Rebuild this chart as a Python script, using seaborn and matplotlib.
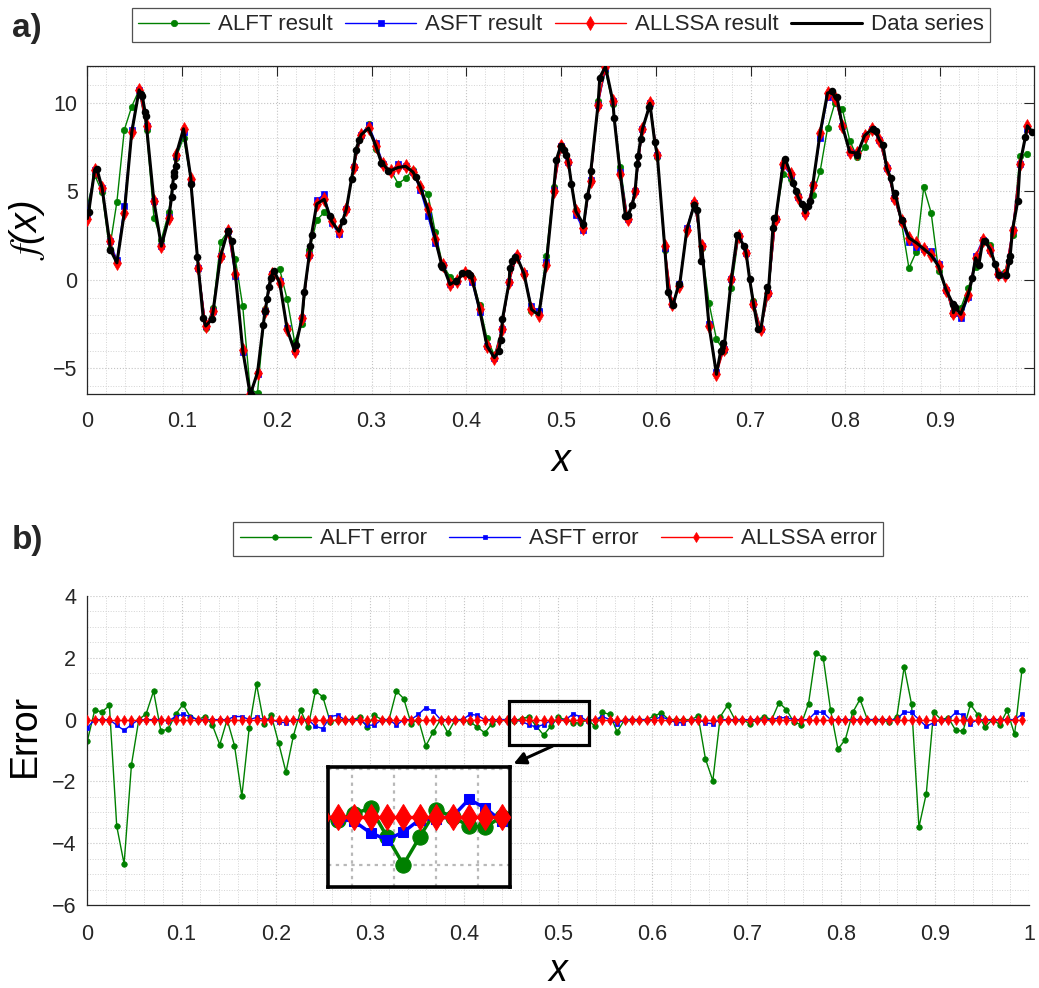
import numpy as np
import matplotlib
matplotlib.use("Agg")
import matplotlib.pyplot as plt
import seaborn as sns
from matplotlib.ticker import MultipleLocator, FuncFormatter
from matplotlib.patches import Rectangle, FancyArrowPatch

# ---------------- data ----------------
n_grid = 128  # regular evaluation grid x = i/128

allssa_result = [
    3.46, 6.22, 5.19, 2.18, 0.96, 3.80, 8.33, 10.73, 8.67, 4.44,
    1.90, 3.50, 7.07, 8.53, 5.71, 0.68, -2.61, -1.77, 1.33, 2.74,
    0.34, -3.98, -6.47, -5.24, -1.77, 0.34, -0.17, -2.80, -4.02, -2.18,
    1.43, 4.29, 4.55, 3.31, 2.74, 4.00, 6.37, 8.20, 8.57, 7.54,
    6.54, 6.17, 6.35, 6.41, 6.09, 5.23, 4.02, 2.33, 0.86, -0.26,
    -0.08, 0.39, 0.02, -1.67, -3.74, -4.40, -2.76, -0.11, 1.33, 0.34,
    -1.67, -1.99, 0.86, 5.04, 7.54, 6.63, 3.87, 2.93, 5.60, 9.89,
    12.05, 10.08, 5.98, 3.46, 5.00, 8.52, 9.98, 7.07, 1.90, -1.39,
    -0.36, 2.84, 4.34, 1.90, -2.61, -5.34, -3.93, 0.02, 2.46, 1.52,
    -1.35, -2.80, -0.73, 3.46, 6.54, 6.00, 4.70, 3.78, 5.34, 8.29,
    10.55, 10.30, 8.70, 7.22, 7.16, 8.14, 8.52, 7.91, 6.32, 4.62,
    3.31, 2.37, 2.09, 1.75, 1.39, 0.77, -0.55, -1.86, -1.95, -0.83,
    1.24, 2.27, 1.71, 0.34, 0.30, 2.84, 6.54, 8.70]

alft_err = [
    -0.70, 0.30, 0.25, 0.46, -3.45, -4.67, -1.46, 0.00, 0.19, 0.92,
    -0.37, -0.31, 0.17, 0.49, 0.09, 0.00, 0.10, -0.18, -0.81, 0.00,
    -0.84, -2.48, -0.27, 1.14, -0.13, 0.14, -0.76, -1.70, -0.53, 0.30,
    -0.24, 0.92, 0.74, -0.07, 0.00, 0.00, 0.00, 0.07, -0.24, 0.14,
    0.00, 0.00, 0.92, 0.68, -0.13, 0.00, -0.85, -0.40, 0.00, -0.43,
    0.00, 0.00, -0.07, -0.24, -0.43, -0.13, 0.00, 0.00, -0.03, 0.03,
    0.09, -0.21, -0.50, -0.21, 0.07, 0.00, -0.10, -0.11, 0.00, -0.22,
    0.23, 0.17, -0.40, 0.00, 0.00, 0.00, 0.00, 0.11, 0.22, 0.00,
    0.00, 0.00, 0.00, 0.11, -1.28, -1.98, 0.09, 0.46, 0.00, 0.00,
    -0.13, 0.00, 0.09, 0.00, 0.55, 0.32, -0.08, -0.16, 0.52, 2.17,
    2.00, 0.30, -0.95, -0.65, 0.23, 0.66, 0.00, 0.00, 0.00, -0.08,
    0.09, 1.71, 0.50, -3.48, -2.40, 0.25, 0.00, 0.06, -0.35, -0.37,
    0.49, 0.16, -0.24, 0.00, -0.16, 0.30, -0.48, 1.60]

asft_err = [
    -0.26, 0.00, 0.00, 0.00, -0.18, -0.35, -0.16, 0.00, 0.00, 0.00,
    0.00, -0.05, 0.10, 0.17, 0.10, 0.00, 0.00, 0.00, 0.00, 0.00,
    0.10, 0.10, 0.00, 0.07, 0.00, 0.00, -0.08, -0.10, 0.00, 0.00,
    0.00, -0.22, -0.29, 0.10, 0.14, 0.00, 0.00, 0.00, -0.18, -0.18,
    0.00, 0.00, -0.18, 0.00, 0.00, 0.17, 0.39, 0.27, 0.00, 0.00,
    0.00, 0.00, 0.17, 0.14, 0.00, 0.00, 0.00, 0.00, -0.02, -0.05,
    -0.17, -0.24, -0.16, -0.03, -0.02, 0.00, 0.18, 0.09, -0.05, 0.00,
    0.10, 0.00, -0.13, 0.00, 0.00, 0.00, 0.00, 0.00, 0.09, 0.00,
    -0.10, -0.10, 0.00, 0.00, -0.11, -0.13, 0.00, 0.00, 0.00, 0.00,
    0.00, 0.00, 0.00, 0.00, 0.06, 0.06, 0.00, 0.00, 0.00, 0.25,
    0.23, 0.00, 0.00, 0.00, 0.00, 0.00, 0.00, 0.00, 0.00, 0.00,
    0.00, 0.25, 0.23, 0.00, -0.22, -0.10, 0.00, 0.00, 0.23, 0.14,
    -0.13, 0.00, 0.00, 0.00, 0.00, 0.00, 0.00, 0.17]

allssa_err = [0.0] * 128

# irregularly sampled data series (black dots)
data_x = [0.0015, 0.0102, 0.0243, 0.0566, 0.0580, 0.0609, 0.0620, 0.0890, 0.0900,
          0.0911, 0.0918, 0.0932, 0.1094, 0.1161, 0.1224, 0.1312, 0.1481, 0.1523,
          0.1723, 0.1857, 0.1878, 0.1896, 0.1917, 0.1934, 0.1973, 0.2202, 0.2290,
          0.2353, 0.2367, 0.2560, 0.2694, 0.2789, 0.2835, 0.2870, 0.3105, 0.3176,
          0.3467, 0.3738, 0.3745, 0.3896, 0.3959, 0.4019, 0.4044, 0.4343, 0.4362,
          0.4381, 0.4459, 0.4484, 0.4512, 0.4951, 0.4997, 0.5032, 0.5057, 0.5110,
          0.5233, 0.5278, 0.5314, 0.5409, 0.5560, 0.5680, 0.5708, 0.5753, 0.5806,
          0.5813, 0.5841, 0.5929, 0.5989, 0.6129, 0.6182, 0.6242, 0.6404, 0.6439,
          0.6481, 0.6685, 0.6709, 0.6861, 0.6931, 0.6991, 0.7079, 0.7174, 0.7237,
          0.7244, 0.7367, 0.7448, 0.7483, 0.7540, 0.7605, 0.7630, 0.7860, 0.7912,
          0.8125, 0.8290, 0.8320, 0.8397, 0.8480, 0.8527, 0.8600, 0.9135, 0.9160,
          0.9340, 0.9410, 0.9470, 0.9580, 0.9627, 0.9700, 0.9733, 0.9740, 0.9820,
          0.9900, 0.9975]
data_y = [3.85, 6.26, 1.71, 10.49, 10.41, 9.50, 9.23, 4.68, 5.32,
          5.85, 6.09, 6.41, 5.43, 1.30, -2.18, -2.24, 2.74, 2.18,
          -6.43, -2.56, -1.77, -1.11, -0.41, 0.11, 0.49, -3.68, -0.70,
          1.90, 2.56, 3.59, 3.31, 5.70, 7.35, 7.91, 6.60, 6.17,
          5.79, 0.86, 0.73, -0.04, 0.39, 0.36, 0.26, -4.00, -3.40,
          -2.24, 0.64, 1.05, 1.28, 6.79, 7.57, 7.35, 7.07, 5.41,
          3.16, 4.72, 6.13, 11.43, 9.17, 3.59, 3.65, 4.25, 6.54,
          6.97, 7.97, 9.74, 7.78, -0.70, -1.43, -0.26, 4.21, 3.97,
          1.05, -4.02, -3.55, 2.56, 1.90, 0.02, -2.80, -0.41, 2.93,
          3.50, 6.82, 5.47, 5.00, 4.29, 4.15, 4.44, 10.64, 10.32,
          7.07, 8.53, 8.42, 7.63, 5.75, 4.91, 3.40, -1.35, -1.54,
          0.08, 0.86, 2.22, 0.90, 0.26, 0.26, 1.05, 1.33, 4.44,
          8.05, 8.35]

top_xticks = [0, 0.1, 0.2, 0.3, 0.4, 0.5, 0.6, 0.7, 0.8, 0.9]
top_yticks = [-5, 0, 5, 10]
bot_xticks = [0, 0.1, 0.2, 0.3, 0.4, 0.5, 0.6, 0.7, 0.8, 0.9, 1.0]
bot_yticks = [-6, -4, -2, 0, 2, 4]
top_labels = ["ALFT result", "ASFT result", "ALLSSA result", "Data series"]
bot_labels = ["ALFT error", "ASFT error", "ALLSSA error"]

# ---------------- derived series ----------------
grid_x = np.arange(n_grid) / n_grid
true_y = np.array(allssa_result) + np.array(allssa_err)
alft_result = true_y - np.array(alft_err)
asft_result = true_y - np.array(asft_err)
allssa_y = np.array(allssa_result)

lx = np.concatenate([grid_x, np.array(data_x)])
ly = np.concatenate([true_y, np.array(data_y)])
order = np.argsort(lx, kind="stable")
line_x, line_y = lx[order], ly[order]

# ---------------- style ----------------
sns.set_theme(style="white")
plt.rcParams["font.family"] = ["Liberation Sans", "DejaVu Sans"]
plt.rcParams["mathtext.fontset"] = "stix"
plt.rcParams["axes.unicode_minus"] = True

GREEN, BLUE, RED = "#008000", "#0000ff", "#ff0000"
SPINE = "#262626"
GRIDC = "#c4c4c4"

def fmt(v, p):
    s = "%g" % round(v, 4)
    return s.replace("-", "\u2212")

fig = plt.figure(figsize=(10.39, 9.88), dpi=100)
ax1 = fig.add_axes([87.3 / 1039, 1 - 394 / 988, 947.0 / 1039, 328 / 988])
ax2 = fig.add_axes([87.3 / 1039, 1 - 905 / 988, 942.0 / 1039, 309 / 988])

# ---- top panel ----
sns.lineplot(x=grid_x, y=alft_result, ax=ax1, color=GREEN, linewidth=1.0, marker="o",
             markersize=4.6, markeredgecolor=GREEN, markeredgewidth=0.5,
             label=top_labels[0], estimator=None, sort=False, zorder=2)
sns.lineplot(x=grid_x, y=asft_result, ax=ax1, color=BLUE, linewidth=1.0, marker="s",
             markersize=4.6, markeredgecolor=BLUE, markeredgewidth=0.5,
             label=top_labels[1], estimator=None, sort=False, zorder=3)
sns.lineplot(x=grid_x, y=allssa_y, ax=ax1, color=RED, linewidth=1.0, marker="d",
             markersize=7, markeredgecolor=RED, markeredgewidth=0.5,
             label=top_labels[2], estimator=None, sort=False, zorder=4)
sns.lineplot(x=line_x, y=line_y, ax=ax1, color="black", linewidth=2.2,
             label=top_labels[3], estimator=None, sort=False, zorder=5)
sns.scatterplot(x=data_x, y=data_y, ax=ax1, color="black", s=30, edgecolor="black",
                linewidth=0, zorder=6)

ax1.set_xlim(0, 0.9995)
ax1.set_ylim(-6.45, 12.08)
ax1.set_xticks(top_xticks)
ax1.set_yticks(top_yticks)
ax1.xaxis.set_minor_locator(MultipleLocator(0.02))
ax1.yaxis.set_minor_locator(MultipleLocator(1))

# ---- bottom panel ----
sns.lineplot(x=grid_x, y=alft_err, ax=ax2, color=GREEN, linewidth=1.0, marker="o",
             markersize=4.0, markeredgecolor=GREEN, markeredgewidth=0.5,
             label=bot_labels[0], estimator=None, sort=False, zorder=2)
sns.lineplot(x=grid_x, y=asft_err, ax=ax2, color=BLUE, linewidth=1.0, marker="s",
             markersize=2.4, markeredgecolor=BLUE, markeredgewidth=0.5,
             label=bot_labels[1], estimator=None, sort=False, zorder=3)
sns.lineplot(x=grid_x, y=allssa_err, ax=ax2, color=RED, linewidth=1.0, marker="d",
             markersize=5.5, markeredgecolor=RED, markeredgewidth=0.5,
             label=bot_labels[2], estimator=None, sort=False, zorder=4)
ax2.set_xlim(0, 1.0)
ax2.set_ylim(-6, 4)
ax2.set_xticks(bot_xticks)
ax2.set_yticks(bot_yticks)
ax2.xaxis.set_minor_locator(MultipleLocator(0.02))
ax2.yaxis.set_minor_locator(MultipleLocator(0.5))

for ax in (ax1, ax2):
    ax.set_axisbelow(True)
    ax.grid(which="major", color=GRIDC, linestyle=":", linewidth=0.8)
    ax.grid(which="minor", color="#d4d4d4", linestyle=":", linewidth=0.7)
    ax.xaxis.set_major_formatter(FuncFormatter(fmt))
    ax.yaxis.set_major_formatter(FuncFormatter(fmt))
    ax.tick_params(which="minor", length=0)
    for s in ax.spines.values():
        s.set_color(SPINE)
        s.set_linewidth(0.9)
    ax.set_xlabel("")
    ax.set_ylabel("")

ax1.tick_params(which="major", direction="in", length=7, width=0.8, color=SPINE,
                labelcolor=SPINE, labelsize=15.5, top=True, right=True)
ax1.tick_params(axis="x", pad=12)
ax1.tick_params(axis="y", pad=7)
ax2.tick_params(which="major", direction="in", length=7, width=0.8, color=SPINE,
                labelcolor=SPINE, labelsize=15.5, top=False, right=False)
ax2.tick_params(axis="x", pad=14)
ax2.tick_params(axis="y", pad=8)
ax2.spines["top"].set_visible(False)
ax2.spines["right"].set_visible(False)

# axis labels
ax1.set_xlabel("x", fontsize=27, fontstyle="italic", color="black")
ax1.xaxis.set_label_coords(0.5, -0.148)
ax1.set_ylabel(r"$f$(x)", fontsize=27, fontstyle="italic", color="black")
ax1.yaxis.set_label_coords(-0.043, 0.5)
ax2.set_xlabel("x", fontsize=27, fontstyle="italic", color="black")
ax2.xaxis.set_label_coords(0.5, -0.155)
ax2.set_ylabel("Error", fontsize=27, color="black")
ax2.yaxis.set_label_coords(-0.047, 0.55)

# legends
h1, l1 = ax1.get_legend_handles_labels()
leg1 = ax1.legend(h1, l1, ncol=4, loc="lower center", bbox_to_anchor=(0.5, 1.073),
                  frameon=True, fancybox=False, edgecolor=SPINE, fontsize=16,
                  handlelength=3.2, numpoints=1, columnspacing=0.55,
                  handletextpad=0.4, borderpad=0.3, borderaxespad=0)
leg1.get_frame().set_linewidth(0.9)
h2, l2 = ax2.get_legend_handles_labels()
leg2 = ax2.legend(h2, l2, ncol=3, loc="lower center", bbox_to_anchor=(0.5, 1.129),
                  frameon=True, fancybox=False, edgecolor=SPINE, fontsize=16,
                  handlelength=3.2, numpoints=1, columnspacing=1.0,
                  handletextpad=0.4, borderpad=0.3, borderaxespad=0)
leg2.get_frame().set_linewidth(0.9)

# panel letters
fig.text(12 / 1039, 1 - 28 / 988, "a)", fontsize=24, fontweight="bold", va="center", ha="left")
fig.text(12 / 1039, 1 - 541 / 988, "b)", fontsize=24, fontweight="bold", va="center", ha="left")

# zoom rectangle + arrow + inset
ax2.add_patch(Rectangle((0.4474, -0.83), 0.085, 1.43, fill=False, edgecolor="black",
                        linewidth=2.3, zorder=10))
arrow = FancyArrowPatch((555 / 1039, 1 - 745 / 988), (511 / 1039, 1 - 765 / 988),
                        transform=fig.transFigure, arrowstyle="-|>", mutation_scale=18,
                        linewidth=2.2, color="black")
fig.add_artist(arrow)

axins = fig.add_axes([328 / 1039, 1 - 886.7 / 988, 182 / 1039, 120 / 988])
axins.set_facecolor("white")
sns.lineplot(x=grid_x, y=alft_err, ax=axins, color=GREEN, linewidth=2.5, marker="o",
             markersize=11, markeredgecolor=GREEN, estimator=None, sort=False, zorder=2)
sns.lineplot(x=grid_x, y=asft_err, ax=axins, color=BLUE, linewidth=2.5, marker="s",
             markersize=7.5, markeredgecolor=BLUE, estimator=None, sort=False, zorder=3)
sns.lineplot(x=grid_x, y=allssa_err, ax=axins, color=RED, linewidth=2.5, marker="d",
             markersize=13, markeredgecolor=RED, estimator=None, sort=False, zorder=4)
axins.set_xlim(0.4484, 0.5352)
axins.set_ylim(-0.73, 0.52)
axins.set_xticks([0.46, 0.48, 0.50, 0.52])
axins.set_yticks([-0.5, 0.5])
axins.tick_params(length=0, labelbottom=False, labelleft=False)
axins.grid(True, color="#b8b8b8", linestyle=(0, (1.5, 2.0)), linewidth=1.6)
axins.set_axisbelow(True)
axins.set_xlabel("")
axins.set_ylabel("")
for s in axins.spines.values():
    s.set_color("black")
    s.set_linewidth(2.6)

fig.savefig("out.png", dpi=100)
